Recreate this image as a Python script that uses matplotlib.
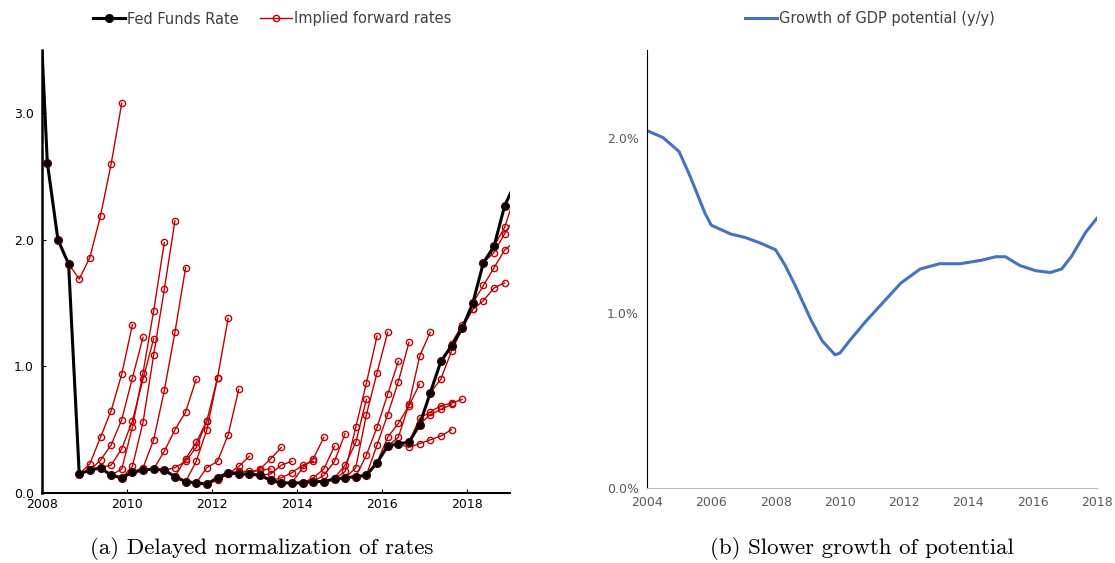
import matplotlib
matplotlib.use("Agg")
import matplotlib.pyplot as plt
import numpy as np
from matplotlib.lines import Line2D

# ---- data ----
ff_start = 2008.125
fed_funds = [2.61, 2.00, 1.81, 0.15, 0.18, 0.20, 0.14, 0.12, 0.165, 0.18, 0.19, 0.18,
             0.13, 0.09, 0.08, 0.07, 0.12, 0.16, 0.15, 0.15, 0.14, 0.10, 0.08, 0.08,
             0.08, 0.09, 0.09, 0.11, 0.12, 0.13, 0.14, 0.24, 0.37, 0.39, 0.40, 0.54,
             0.79, 1.04, 1.16, 1.30, 1.50, 1.82, 1.95, 2.27, 2.45]
ff_lead_in = (2007.875, 4.4)

# forward curves: (start index into fed_funds, following quarterly values)
forwards = [
    (2, [1.69, 1.86, 2.19, 2.60, 3.08]),
    (3, [0.23, 0.44, 0.65, 0.94, 1.33]),
    (4, [0.26, 0.38, 0.58, 0.91, 1.23]),
    (5, [0.22, 0.35, 0.57, 0.90, 1.22]),
    (6, [0.19, 0.52, 0.95, 1.44, 1.98]),
    (7, [0.21, 0.56, 1.09, 1.61, 2.15]),
    (8, [0.20, 0.42, 0.81, 1.27, 1.78]),
    (10, [0.33, 0.50, 0.64, 0.90]),
    (11, [0.20, 0.25, 0.36, 0.57]),
    (12, [0.27, 0.40, 0.57, 0.91]),
    (13, [0.25, 0.50, 0.91, 1.38]),
    (14, [0.20, 0.25, 0.46, 0.82]),
    (15, [0.10, 0.15, 0.21, 0.29]),
    (17, [0.17, 0.17, 0.18, 0.19]),
    (19, [0.19, 0.27, 0.36]),
    (20, [0.15, 0.22, 0.25]),
    (21, [0.12, 0.16, 0.22, 0.25]),
    (23, [0.20, 0.27, 0.44]),
    (24, [0.12, 0.19, 0.37]),
    (25, [0.14, 0.25, 0.47]),
    (26, [0.12, 0.22, 0.40, 0.74]),
    (27, [0.17, 0.52, 0.87, 1.24]),
    (28, [0.20, 0.62, 0.95, 1.27]),
    (29, [0.30, 0.52, 0.78, 1.04]),
    (30, [0.38, 0.62, 0.88, 1.19]),
    (31, [0.44, 0.55, 0.69, 0.86]),
    (32, [0.44, 0.70, 1.08, 1.27]),
    (33, [0.36, 0.39, 0.42, 0.45, 0.50]),
    (34, [0.59, 0.64, 0.69, 0.71, 0.74]),
    (35, [0.62, 0.66, 0.70]),
    (36, [0.90, 1.12, 1.30]),
    (37, [1.18, 1.33, 1.45]),
    (39, [1.45, 1.52, 1.62, 1.66]),
    (40, [1.64, 1.78, 1.92, 1.99]),
    (41, [1.90, 2.05, 2.18]),
    (42, [2.10, 2.36, 2.52]),
]

gdp_years = [2004.0, 2004.5, 2005.0, 2005.34, 2005.8, 2006.0, 2006.6, 2007.05, 2007.5, 2008.0,
             2008.3, 2008.6, 2009.1, 2009.45, 2009.85, 2010.0, 2010.3, 2010.8, 2011.25,
             2011.9, 2012.5, 2013.1, 2013.75, 2014.4, 2014.85, 2015.15, 2015.6, 2016.1,
             2016.55, 2016.9, 2017.2, 2017.65, 2018.0]
gdp_potential = [2.04, 2.00, 1.92, 1.78, 1.57, 1.50, 1.45, 1.43, 1.40, 1.36, 1.27, 1.16,
                 0.96, 0.84, 0.76, 0.77, 0.84, 0.95, 1.04, 1.17, 1.25, 1.28, 1.28, 1.30,
                 1.32, 1.32, 1.27, 1.24, 1.23, 1.25, 1.32, 1.46, 1.54]

# ---- plot ----
fig = plt.figure(figsize=(11.15, 5.63), dpi=100)
W, H = 1115, 563
ax1 = fig.add_axes([42 / W, 1 - 493 / H, (510 - 42) / W, (493 - 50) / H])
ax2 = fig.add_axes([647 / W, 1 - 488 / H, (1097 - 647) / W, (488 - 50) / H])

red = "#c00000"
ff_x = ff_start + 0.25 * np.arange(len(fed_funds))
for i, vals in forwards:
    xs = ff_x[i] + 0.25 * np.arange(len(vals) + 1)
    ys = [fed_funds[i]] + vals
    ax1.plot(xs, ys, color=red, lw=1.0, marker="o", ms=4.5, mfc="none", mec=red, mew=1.0, zorder=2)
ax1.plot(np.r_[ff_lead_in[0], ff_x], np.r_[ff_lead_in[1], fed_funds], color="black", lw=2.2,
         marker="o", ms=5.5, mfc="black", mec="#400000", zorder=3)

ax1.set_xlim(2008, 2019)
ax1.set_ylim(0, 3.5)
ax1.set_xticks([2008, 2010, 2012, 2014, 2016, 2018])
ax1.set_yticks([0, 1, 2, 3])
ax1.set_yticklabels(["0.0", "1.0", "2.0", "3.0"])
for s in ["top", "right"]:
    ax1.spines[s].set_visible(False)
ax1.spines["left"].set_linewidth(1.8)
ax1.spines["bottom"].set_linewidth(1.5)
ax1.tick_params(labelsize=9, length=3, direction="in")
ax1.tick_params(axis="y", pad=6)

h1 = Line2D([], [], color="black", lw=2.2, marker="o", ms=5.5, mfc="black")
h2 = Line2D([], [], color=red, lw=1.0, marker="o", ms=4.5, mfc="none", mec=red)
fig.legend([h1, h2], ["Fed Funds Rate", "Implied forward rates"], loc="center",
           bbox_to_anchor=(272 / W, 1 - 19 / H), ncol=2, frameon=False, fontsize=10.5,
           handlelength=2.2, handletextpad=0.1, columnspacing=1.5, labelcolor="#404040")

ax2.plot(gdp_years, gdp_potential, color="#4472c4", lw=2.2)
ax2.set_xlim(2004, 2018)
ax2.set_ylim(0, 2.5)
ax2.set_xticks(range(2004, 2019, 2))
ax2.set_yticks([0, 1, 2])
ax2.set_yticklabels(["0.0%", "1.0%", "2.0%"])
for s in ["top", "right"]:
    ax2.spines[s].set_visible(False)
ax2.spines["bottom"].set_color("#bfbfbf")
ax2.tick_params(labelsize=9, length=0, labelcolor="#595959", pad=6)
fig.legend([Line2D([], [], color="#4472c4", lw=2.2)], ["Growth of GDP potential (y/y)"],
           loc="center", bbox_to_anchor=(870 / W, 1 - 19 / H), frameon=False, fontsize=10.5,
           handlelength=2.2, handletextpad=0.1, labelcolor="#404040")

fig.text(262 / W, 1 - 548 / H, "(a) Delayed normalization of rates", ha="center", va="center",
         fontsize=16.5, family="cmr10")
fig.text(862 / W, 1 - 548 / H, "(b) Slower growth of potential", ha="center", va="center",
         fontsize=16.5, family="cmr10")

fig.savefig("out.png", dpi=100)
